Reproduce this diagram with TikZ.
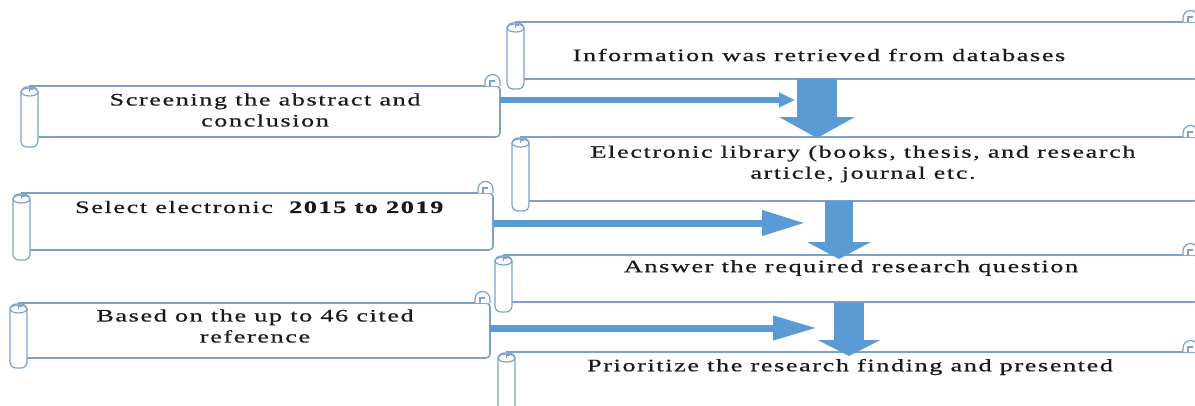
\documentclass[tikz,border=0pt]{standalone}
\usepackage{fontspec}
\setmainfont{Liberation Serif}[FakeStretch=1.5, LetterSpace=9, FakeBold=0.6]
\usepackage{tikz}
\usetikzlibrary{arrows.meta}
\definecolor{rollblue}{HTML}{7EA0CC}
\definecolor{flowblue}{HTML}{5B9BD5}
\definecolor{ink}{HTML}{1A1A1A}
\tikzset{
  body/.style={draw=rollblue, line width=1.6pt, fill=white, line join=round},
  curl/.style={draw=rollblue, line width=1.2pt, fill=white},
  sideflow/.style={draw=flowblue, line width=7pt},
  dropflow/.style={draw=flowblue},
  txt/.style={text=ink, font=\fontsize{17.5}{21}\selectfont, align=center, inner sep=0pt},
}

\begin{document}
\begin{tikzpicture}[x=1pt,y=-1pt]
  \useasboundingbox (0,0) rectangle (1195,405);
  % scrolls: name/left/top/right/bottom
  \foreach \n/\L/\T/\R/\B in {s1/21/86/500/137, s2/13/193/493/250, s3/10/303/490/358,
      r1/507/22/1198/79, r2/512/137/1198/201, r3/495/255/1198/302, r4/498/352/1198/420}{
    \draw[body, rounded corners=4pt] (\L+8,\T) -- (\R,\T) -- (\R,\B) -- (\L+17,\B);
    \draw[curl] (\R-15,\T) -- (\R-15,\T-4) arc[start angle=180,end angle=360,radius=7.5] -- (\R,\T);
    \draw[curl] (\R-10,\T) -- (\R-10,\T-5) -- (\R-5,\T-5);
    \draw[curl, rounded corners=6pt] (\L,\T+1) rectangle (\L+17,\B+10);
    \draw[curl] (\L+8.5,\T+6) ellipse [x radius=8.5, y radius=4];
    \draw[curl] (\L+8.5,\T+6) -- (\L+8.5,\T+3) -- (\L+12,\T+3);
  }
  % texts
  \node[txt] (s1) at (265,110) {Screening the abstract and\\conclusion};
  \node[txt] (s2) at (260,207) {Select electronic \ \textbf{2015 to 2019}};
  \node[txt] (s3) at (255,326) {Based on the up to 46 cited\\reference};
  \node[txt] (r1) at (819,55) {Information was retrieved from databases};
  \node[txt] (r2) at (863,164) {Electronic library (books, thesis, and research\\article, journal etc.};
  \node[txt] (r3) at (851,268) {Answer the required research question};
  \node[txt] (r4) at (850,367) {Prioritize the research finding and presented};
  % arrow ends
  \coordinate (s1-out) at (500,100);  \coordinate (h1-tip) at (795,100);
  \coordinate (s2-out) at (493,223);  \coordinate (h2-tip) at (805,223);
  \coordinate (s3-out) at (490,328);  \coordinate (h3-tip) at (817,328);
  \coordinate (d1-top) at (817,79);   \coordinate (d1-tip) at (817,138);
  \coordinate (d2-top) at (839,201);  \coordinate (d2-tip) at (839,259);
  \coordinate (d3-top) at (849,303);  \coordinate (d3-tip) at (849,356);
  % side arrows
  \draw[sideflow, line width=6pt, -{Triangle[length=16pt,width=14pt]}] (s1-out) -- (h1-tip);
  \draw[sideflow, -{Triangle[length=43pt,width=24pt]}] (s2-out) -- (h2-tip);
  \draw[sideflow, -{Triangle[length=44pt,width=23pt]}] (s3-out) -- (h3-tip);
  % down arrows
  \draw[dropflow, line width=40pt, -{Triangle[length=21pt,width=75pt]}] (d1-top) -- (d1-tip);
  \draw[dropflow, line width=28pt, -{Triangle[length=17pt,width=63pt]}] (d2-top) -- (d2-tip);
  \draw[dropflow, line width=30pt, -{Triangle[length=16pt,width=62pt]}] (d3-top) -- (d3-tip);
\end{tikzpicture}
\end{document}
